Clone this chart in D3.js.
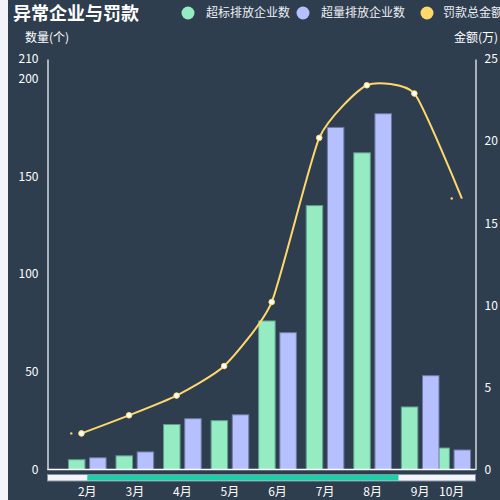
<!DOCTYPE html>
<html>
<head>
<meta charset="utf-8">
<script src="https://cdn.jsdelivr.net/npm/d3@7"></script>
<style>
  html, body { margin: 0; padding: 0; background: #f3f4f9; }
  svg { display: block; }
  text { font-family: "Noto Sans CJK SC", "Noto Sans", sans-serif; }
</style>
</head>
<body>
<div id="chart"></div>
<script>
// data
var months      = ['2月', '3月', '4月', '5月', '6月', '7月', '8月', '9月', '10月'];
var overLimit   = [5, 7, 23, 25, 76, 135, 162, 32, 11];     // 超标排放企业数
var overAmount  = [6, 9, 26, 28, 70, 175, 182, 48, 10];     // 超量排放企业数
var fines       = [2.2, 3.3, 4.5, 6.3, 10.2, 20.2, 23.4, 22.9, 16.5]; // 罚款总金额
var leftTicks   = [0, 50, 100, 150, 200, 210];
var rightTicks  = [0, 5, 10, 15, 20, 25];
var seriesNames = ['超标排放企业数', '超量排放企业数', '罚款总金额'];
var seriesColors = ['#95ecc2', '#b6c0ff', '#ffd86c'];
var zoomRange   = [9.3, 82];   // data zoom slider, percent

var width = 500, height = 500;
var pLeft = 47.5, pRight = 475.5, pTop = 59, pBottom = 469.5;

var svg = d3.select('#chart').append('svg')
    .attr('width', width)
    .attr('height', height);

svg.append('rect')
    .attr('x', 8).attr('y', 0)
    .attr('width', width - 8).attr('height', height)
    .attr('fill', '#2e3e4f');

// scales
var x = d3.scaleBand().domain(months).range([pLeft + 16, pRight + 16]);
var xStatic = d3.scaleBand().domain(months).range([pLeft, pRight]);
var step = x.bandwidth();
var inner = d3.scaleBand().domain([0, 1])
    .range([-step * 0.396, step * 0.396])
    .paddingInner(0.22);
var yL = d3.scaleLinear().domain([0, 210]).range([pBottom, pTop]);
var yR = d3.scaleLinear().domain([0, 25]).range([pBottom, pTop]);

function center(m) {
    return Math.min(x(m) + step / 2, pRight - step / 2);
}

svg.append('clipPath').attr('id', 'plot')
    .append('rect')
    .attr('x', pLeft).attr('y', pTop - 5)
    .attr('width', pRight - pLeft).attr('height', pBottom - pTop + 5);

var plot = svg.append('g').attr('clip-path', 'url(#plot)');

// bars
var barSeries = [overLimit, overAmount];
var barStroke = ['#5e9e8c', '#6f78a3'];
barSeries.forEach(function(vals, s) {
    plot.append('g').selectAll('rect')
        .data(months)
        .enter()
        .append('rect')
        .attr('x', function(m) { return center(m) + inner(s); })
        .attr('y', function(m, i) { return yL(vals[i]); })
        .attr('width', inner.bandwidth())
        .attr('height', function(m, i) { return pBottom - yL(vals[i]); })
        .attr('fill', seriesColors[s])
        .attr('stroke', barStroke[s])
        .attr('stroke-width', 1);
});

// fine line
var linePts = months.map(function(m, i) {
    return [x(m) + step / 2 - 5.8, yR(fines[i])];
});
var line = d3.line().curve(d3.curveCardinal.tension(0.45));
plot.append('path')
    .attr('d', line(linePts))
    .attr('fill', 'none')
    .attr('stroke', seriesColors[2])
    .attr('stroke-width', 2);

plot.append('g').selectAll('circle')
    .data(linePts.slice(0, -1))
    .enter()
    .append('circle')
    .attr('cx', function(d) { return d[0]; })
    .attr('cy', function(d) { return d[1]; })
    .attr('r', 2.8)
    .attr('fill', '#fff')
    .attr('stroke', seriesColors[2])
    .attr('stroke-width', 1);

// small symbols still growing in
[0, months.length - 1].forEach(function(i) {
    plot.append('circle')
        .attr('cx', xStatic(months[i]) + xStatic.bandwidth() / 2)
        .attr('cy', yR(fines[i]))
        .attr('r', 1.2)
        .attr('fill', seriesColors[2]);
});

// axes
var axL = svg.append('g')
    .attr('transform', 'translate(' + pLeft + ',0)')
    .call(d3.axisLeft(yL).tickValues(leftTicks).tickSize(0).tickPadding(9));
var axR = svg.append('g')
    .attr('transform', 'translate(' + pRight + ',0)')
    .call(d3.axisRight(yR).tickValues(rightTicks).tickSize(0).tickPadding(9));
[axL, axR].forEach(function(ax) {
    ax.select('.domain').attr('stroke', '#fff').attr('stroke-width', 1.2);
    ax.selectAll('text')
        .attr('fill', '#fff')
        .style('font-size', '12px');
});

svg.append('line')
    .attr('x1', pLeft).attr('x2', pRight)
    .attr('y1', pBottom).attr('y2', pBottom)
    .attr('stroke', '#fff').attr('stroke-width', 1.5);

svg.append('g').selectAll('text')
    .data(months)
    .enter()
    .append('text')
    .attr('x', function(m) { return center(m); })
    .attr('y', 496)
    .attr('text-anchor', 'middle')
    .attr('fill', '#fff')
    .style('font-size', '12px')
    .text(function(m) { return m; });

// axis names
svg.append('text')
    .attr('x', 25).attr('y', 42)
    .attr('fill', '#fff')
    .style('font-size', '12px')
    .text('数量(个)');
svg.append('text')
    .attr('x', 498).attr('y', 42)
    .attr('text-anchor', 'end')
    .attr('fill', '#fff')
    .style('font-size', '12px')
    .text('金额(万)');

// data zoom slider
var zx = d3.scaleLinear().domain([0, 100]).range([pLeft, pRight]);
svg.append('rect')
    .attr('x', pLeft).attr('y', 474.5)
    .attr('width', pRight - pLeft).attr('height', 6.5)
    .attr('fill', '#f4f5f9')
    .attr('stroke', '#8690a6')
    .attr('stroke-width', 1);
svg.append('rect')
    .attr('x', zx(zoomRange[0])).attr('y', 475)
    .attr('width', zx(zoomRange[1]) - zx(zoomRange[0])).attr('height', 5.5)
    .attr('fill', '#1ccfa6');

// title
svg.append('text')
    .attr('x', 13).attr('y', 20)
    .attr('fill', '#fff')
    .style('font-size', '18px')
    .style('font-weight', 'bold')
    .text('异常企业与罚款');

// legend
var legendX = [188, 303, 427];
var legend = svg.append('g').selectAll('g')
    .data(seriesNames)
    .enter()
    .append('g')
    .attr('transform', function(d, i) { return 'translate(' + legendX[i] + ',13)'; });
legend.append('circle')
    .attr('r', 6.5)
    .attr('fill', function(d, i) { return seriesColors[i]; });
legend.append('text')
    .attr('x', function(d, i) { return i == 2 ? 16 : 18; })
    .attr('y', 4)
    .attr('fill', '#eef0f4')
    .style('font-size', '12px')
    .text(function(d) { return d; });
</script>
</body>
</html>
